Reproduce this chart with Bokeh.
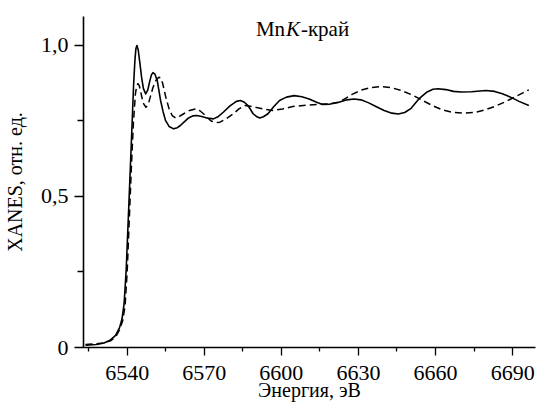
from bokeh.plotting import figure
from bokeh.models import FixedTicker, Range1d, Label
from bokeh.embed import file_html
from bokeh.resources import INLINE

# Energy (eV) and normalized XANES, solid curve
energy_solid = [6523.8, 6528.0, 6531.0, 6533.5, 6535.5, 6537.0, 6538.0, 6538.8, 6539.6, 6540.4,
                6541.2, 6542.0, 6542.5, 6543.0, 6543.4, 6543.8, 6544.3, 6544.9, 6545.6, 6546.3,
                6547.2, 6548.0, 6548.8, 6549.4, 6550.0, 6550.8, 6551.7, 6553.0, 6554.0, 6554.9,
                6556.3, 6558.1, 6559.5, 6560.7, 6562.3, 6563.9, 6565.5, 6567.1, 6569.0, 6571.0,
                6573.6, 6575.5, 6577.4, 6580.0, 6582.5, 6584.1, 6585.6, 6587.0, 6588.0, 6589.0,
                6590.3, 6591.6, 6593.0, 6594.8, 6597.0, 6599.3, 6602.0, 6605.0, 6608.0, 6610.8,
                6613.5, 6616.0, 6619.0, 6622.4, 6625.5, 6628.2, 6631.0, 6634.0, 6637.0, 6640.0,
                6643.0, 6645.5, 6648.0, 6650.5, 6653.5, 6656.5, 6659.0, 6661.0, 6664.0, 6667.0,
                6670.0, 6674.0, 6679.6, 6683.0, 6686.0, 6689.2, 6692.5, 6696.3]
xanes_solid = [0.008, 0.010, 0.015, 0.025, 0.040, 0.065, 0.095, 0.145, 0.255, 0.42,
               0.59, 0.76, 0.87, 0.95, 0.99, 1.000, 0.985, 0.945, 0.895, 0.858,
               0.840, 0.852, 0.882, 0.902, 0.910, 0.905, 0.884, 0.818, 0.780, 0.752,
               0.732, 0.724, 0.728, 0.735, 0.748, 0.760, 0.767, 0.768, 0.765, 0.760,
               0.757, 0.765, 0.779, 0.800, 0.815, 0.818, 0.812, 0.801, 0.788, 0.774,
               0.765, 0.760, 0.764, 0.774, 0.797, 0.818, 0.829, 0.834, 0.830, 0.823,
               0.813, 0.805, 0.806, 0.812, 0.820, 0.823, 0.820, 0.810, 0.797, 0.785,
               0.776, 0.773, 0.778, 0.792, 0.823, 0.845, 0.855, 0.857, 0.854, 0.848,
               0.846, 0.847, 0.851, 0.848, 0.840, 0.829, 0.815, 0.801]

# Dashed curve
energy_dashed = [6523.8, 6528.0, 6531.0, 6533.5, 6535.5, 6537.0, 6538.3, 6539.2, 6540.0, 6540.8,
                 6541.6, 6542.4, 6543.2, 6543.7, 6544.2, 6544.7, 6545.3, 6546.2, 6547.3, 6548.2,
                 6549.0, 6550.0, 6551.2, 6552.3, 6553.0, 6553.8, 6555.0, 6556.3, 6557.5, 6558.8,
                 6560.3, 6562.0, 6564.3, 6566.5, 6568.3, 6569.7, 6571.3, 6572.9, 6574.5, 6576.1,
                 6578.5, 6581.3, 6583.5, 6585.8, 6588.0, 6590.3, 6593.5, 6596.7, 6600.5, 6604.4,
                 6609.5, 6614.7, 6619.0, 6622.4, 6625.0, 6627.5, 6631.0, 6635.0, 6639.0, 6643.0,
                 6647.0, 6651.0, 6655.0, 6659.0, 6663.0, 6667.0, 6671.0, 6675.0, 6679.0, 6683.0,
                 6687.0, 6691.0, 6694.0, 6696.3]
xanes_dashed = [0.010, 0.012, 0.015, 0.022, 0.035, 0.058, 0.09, 0.14, 0.25, 0.42,
                0.59, 0.74, 0.84, 0.866, 0.874, 0.867, 0.845, 0.810, 0.795, 0.805,
                0.830, 0.860, 0.885, 0.895, 0.893, 0.875, 0.830, 0.790, 0.768, 0.760,
                0.765, 0.774, 0.785, 0.790, 0.784, 0.774, 0.760, 0.749, 0.745, 0.746,
                0.757, 0.774, 0.790, 0.801, 0.799, 0.795, 0.789, 0.785, 0.790, 0.798,
                0.802, 0.805, 0.807, 0.812, 0.825, 0.838, 0.852, 0.861, 0.864, 0.860,
                0.850, 0.836, 0.818, 0.800, 0.786, 0.778, 0.776, 0.778, 0.786, 0.798,
                0.813, 0.830, 0.843, 0.853]

x_major_ticks = [6540, 6570, 6600, 6630, 6660, 6690]
x_minor_ticks = [6525, 6555, 6585, 6615, 6645, 6675]
y_major_ticks = [0, 0.5, 1.0]
y_minor_ticks = [0.25, 0.75]
y_tick_labels = ["0", "0,5", "1,0"]

FONT = "Liberation Serif"

p = figure(width=540, height=405, output_backend="svg", toolbar_location=None,
           x_range=Range1d(6523.0, 6698.9), y_range=Range1d(0, 1.096),
           min_border_left=79, min_border_right=5, min_border_top=16, min_border_bottom=58)
p.outline_line_color = None
p.grid.visible = False
p.background_fill_color = "white"
p.border_fill_color = "white"

p.line(energy_solid, xanes_solid, line_color="black", line_width=1.6, line_join="round")
p.line(energy_dashed, xanes_dashed, line_color="black", line_width=1.5, line_dash="7 4",
       line_join="round")

xa = p.xaxis[0]
xa.ticker = FixedTicker(ticks=x_major_ticks, minor_ticks=x_minor_ticks)
xa.axis_label = "Энергия, эВ"
ya = p.yaxis[0]
ya.ticker = FixedTicker(ticks=y_major_ticks, minor_ticks=y_minor_ticks)
ya.major_label_overrides = {t: s for t, s in zip(y_major_ticks, y_tick_labels)}
ya.axis_label = "XANES, отн. ед."

for ax in (xa, ya):
    ax.axis_line_color = "black"
    ax.axis_line_width = 1.6
    ax.major_tick_line_color = "black"
    ax.minor_tick_line_color = "black"
    ax.major_tick_line_width = 1.3
    ax.minor_tick_line_width = 1.3
    ax.major_tick_in = 0
    ax.minor_tick_in = 0
    ax.major_label_text_font = FONT
    ax.major_label_text_font_size = "22px"
    ax.major_label_text_color = "black"
    ax.axis_label_text_font = FONT
    ax.axis_label_text_font_size = "20px"
    ax.axis_label_text_font_style = "normal"
    ax.axis_label_text_color = "black"

xa.major_tick_out = 8
xa.minor_tick_out = 4
xa.major_label_standoff = 10
xa.axis_label_standoff = -4
ya.major_tick_out = 9
ya.minor_tick_out = 6
ya.major_label_standoff = 6
ya.axis_label_standoff = 12

title_parts = [("Mn", "normal", 0), ("K", "italic", 30), ("-край", "normal", 45)]
for txt, style, off in title_parts:
    p.add_layout(Label(x=6590.1, y=1.055, x_offset=off, text=txt,
                       text_font=FONT, text_font_size="21px", text_font_style=style,
                       text_color="black", text_baseline="alphabetic"))

open("out.html", "w").write(file_html(p, INLINE))
